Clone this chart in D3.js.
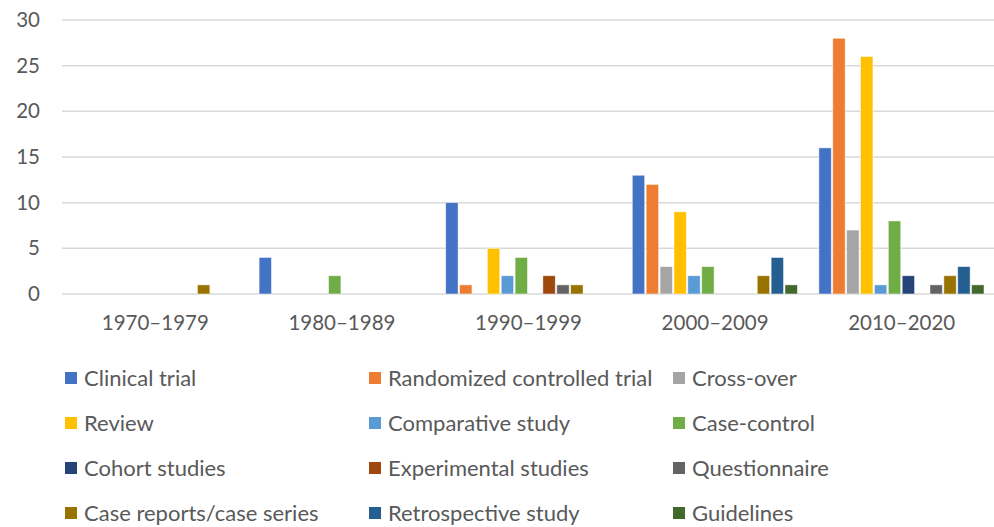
<!DOCTYPE html>
<html>
<head>
<meta charset="utf-8">
<script src="https://cdn.jsdelivr.net/npm/d3@7"></script>
<style>
  body { margin: 0; background: #fff; }
  svg { display: block; font-family: Lato, "Open Sans", sans-serif; }
</style>
</head>
<body>
<svg width="994" height="527"></svg>
<script>
var periods = ["1970–1979", "1980–1989", "1990–1999", "2000–2009", "2010–2020"];

var studyTypes = ["Clinical trial", "Randomized controlled trial", "Cross-over",
    "Review", "Comparative study", "Case-control",
    "Cohort studies", "Experimental studies", "Questionnaire",
    "Case reports/case series", "Retrospective study", "Guidelines"];

var colors = ["#4472C4", "#ED7D31", "#A5A5A5", "#FFC000", "#5B9BD5", "#70AD47",
    "#264478", "#9E480E", "#636363", "#997300", "#255E91", "#43682B"];

// counts per period, one entry per study type (same order as studyTypes)
var counts1970 = [0, 0, 0, 0, 0, 0, 0, 0, 0, 1, 0, 0];
var counts1980 = [4, 0, 0, 0, 0, 2, 0, 0, 0, 0, 0, 0];
var counts1990 = [10, 1, 0, 5, 2, 4, 0, 2, 1, 1, 0, 0];
var counts2000 = [13, 12, 3, 9, 2, 3, 0, 0, 0, 2, 4, 1];
var counts2010 = [16, 28, 7, 26, 1, 8, 2, 0, 1, 2, 3, 1];

var yTicks = [0, 5, 10, 15, 20, 25, 30];

var allCounts = [counts1970, counts1980, counts1990, counts2000, counts2010];

var svg = d3.select("svg");
var textColor = "#595959";

var plot = {left: 62, right: 995, top: 20, bottom: 294};

var x0 = d3.scaleBand()
    .domain(periods)
    .range([plot.left, plot.right]);

var x1 = d3.scaleBand()
    .domain(studyTypes)
    .range([0, x0.bandwidth()])
    .paddingOuter(0.72);

var y = d3.scaleLinear()
    .domain([0, 30])
    .range([plot.bottom, plot.top]);

// gridlines
svg.append("g")
    .selectAll("line")
    .data(yTicks)
    .enter().append("line")
    .attr("x1", plot.left)
    .attr("x2", plot.right)
    .attr("y1", function(d) { return y(d); })
    .attr("y2", function(d) { return y(d); })
    .attr("stroke", "#d9d9d9")
    .attr("stroke-width", 1.5);

// y axis labels
var yAxis = d3.axisLeft(y).tickValues(yTicks).tickSize(0).tickPadding(0);
svg.append("g")
    .attr("transform", "translate(40,0)")
    .call(yAxis)
    .call(function(g) { g.select(".domain").remove(); })
    .selectAll("text")
    .attr("fill", textColor)
    .style("font-size", "20.5px")
    .style("font-family", "Lato");

// bars
var groups = svg.append("g")
    .selectAll("g")
    .data(periods)
    .enter().append("g")
    .attr("transform", function(d) { return "translate(" + x0(d) + ",0)"; });

groups.selectAll("rect")
    .data(function(d, i) {
        return allCounts[i].map(function(v, j) { return {type: studyTypes[j], value: v, color: colors[j]}; });
    })
    .enter().append("rect")
    .filter(function(d) { return d.value > 0; })
    .attr("x", function(d) { return x1(d.type) + 0.5; })
    .attr("width", x1.bandwidth() - 1.5)
    .attr("y", function(d) { return y(d.value); })
    .attr("height", function(d) { return y(0) - y(d.value); })
    .attr("fill", function(d) { return d.color; })
    .attr("stroke", "#fff")
    .attr("stroke-opacity", 0.6)
    .attr("stroke-width", 0.8);

// x axis labels
var xAxis = d3.axisBottom(x0).tickSize(0).tickPadding(0);
svg.append("g")
    .attr("transform", "translate(0,315)")
    .call(xAxis)
    .call(function(g) { g.select(".domain").remove(); })
    .selectAll("text")
    .attr("fill", textColor)
    .style("font-size", "20.5px")
    .style("font-family", "Lato");

// legend: 3 columns, 4 rows
var legend = svg.append("g")
    .selectAll("g")
    .data(studyTypes)
    .enter().append("g")
    .attr("transform", function(d, i) {
        var col = i % 3, row = Math.floor(i / 3);
        return "translate(" + (65 + col * 304) + "," + (378 + row * 45) + ")";
    });

legend.append("rect")
    .attr("x", 0)
    .attr("y", -6)
    .attr("width", 12)
    .attr("height", 12)
    .attr("fill", function(d, i) { return colors[i]; });

legend.append("text")
    .attr("x", 19)
    .attr("y", 0)
    .attr("dy", "0.35em")
    .attr("fill", textColor)
    .style("font-size", "22px")
    .text(function(d) { return d; });
</script>
</body>
</html>
